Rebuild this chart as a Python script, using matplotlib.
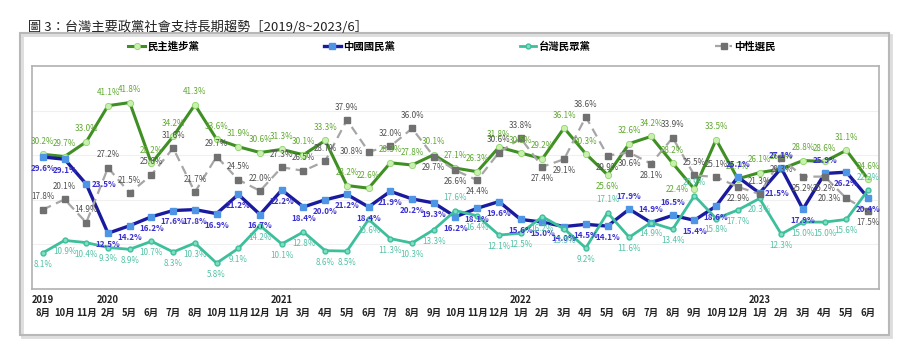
import matplotlib
matplotlib.use("Agg")
import matplotlib.pyplot as plt
from matplotlib.patches import Rectangle
from matplotlib.lines import Line2D
import matplotlib.transforms as mtransforms

plt.rcParams['font.family'] = ['Noto Sans CJK TC', 'DejaVu Sans']

months = ["8月", "10月", "11月", "2月", "5月", "6月", "7月", "8月", "10月", "11月", "12月",
          "1月", "3月", "4月", "5月", "6月", "7月", "8月", "9月", "10月", "11月", "12月",
          "1月", "2月", "3月", "4月", "5月", "6月", "7月", "8月", "9月", "10月", "12月",
          "1月", "2月", "3月", "4月", "5月", "6月"]
years = {0: "2019", 3: "2020", 11: "2021", 22: "2022", 33: "2023"}

dpp = [30.2, 29.7, 33.0, 41.1, 41.8, 28.2, 34.2, 41.3, 33.6, 31.9, 30.6,
       31.3, 30.1, 33.3, 23.2, 22.6, 28.3, 27.8, 30.1, 27.1, 26.3, 31.8,
       30.5, 29.2, 36.1, 30.3, 25.6, 32.6, 34.2, 28.2, 22.4, 33.5, 24.7,
       26.1, 26.9, 28.8, 28.6, 31.1, 24.6]
kmt = [29.6, 29.1, 23.5, 12.5, 14.2, 16.2, 17.6, 17.8, 16.9, 21.2, 16.7,
       22.2, 18.4, 20.0, 21.2, 18.4, 21.9, 20.2, 19.3, 16.2, 18.1, 19.6,
       15.6, 15.0, 14.0, 14.5, 14.1, 17.9, 14.9, 16.5, 15.4, 18.6, 25.1,
       21.5, 27.1, 17.9, 25.9, 26.2, 20.4]
tpp = [8.1, 10.9, 10.4, 9.3, 8.9, 10.7, 8.3, 10.3, 5.8, 9.1, 14.2,
       10.1, 12.8, 8.6, 8.5, 15.6, 11.3, 10.3, 13.3, 17.6, 16.4, 12.1,
       12.5, 16.2, 13.5, 9.2, 17.1, 11.6, 14.9, 13.4, 20.9, 15.8, 17.7,
       20.3, 12.3, 15.0, 15.0, 15.6, 22.2]
neutral = [17.8, 20.1, 14.9, 27.2, 21.5, 25.6, 31.6, 21.7, 29.7, 24.5, 22.0,
           27.3, 26.5, 28.7, 37.9, 30.8, 32.0, 36.0, 29.7, 26.6, 24.4, 30.6,
           33.8, 27.4, 29.1, 38.6, 29.9, 30.6, 28.1, 33.9, 25.5, 25.1, 22.9,
           21.3, 29.3, 25.2, 25.2, 20.3, 17.5]

# label placement: a=above, b=below, l=left, r=right
dpp_pos = "aaaaaaaaaaaaaaaaaaaaaaaaaabaaalaaaaaaaa"
kmt_pos = "bbrbbbbbbbbbbbbbbbbbbbbbbbbaaabbarababb"
tpp_pos = "bbbbbbbbbbbbbbbbbbbabbbbbbabbbabbbbbbba"
neu_pos = "aaaaaaaaaaaaaaalaabbbaabbabbbaaababbblb"

fig = plt.figure(figsize=(9.04, 3.51), dpi=100)
ax = fig.add_axes([32 / 904, 1 - 289 / 351, 847 / 904, 223 / 351])

x = list(range(len(months)))

series = [
    ("民主進步黨", dpp, dpp_pos, dict(color="#3f8f24", lw=2.2, marker="o", ms=4.5,
                                  mfc="#c8f0ae", mec="#8fd46a", mew=0.6), "#5ea82f"),
    ("中國國民黨", kmt, kmt_pos, dict(color="#1a1a9e", lw=2.4, marker="s", ms=4.5,
                                  mfc="#4f95e6", mec="#4f95e6"), "#3a2fd0"),
    ("台灣民眾黨", tpp, tpp_pos, dict(color="#3dbf9c", lw=2.0, marker="o", ms=3.5,
                                  mfc="#7fe0c0", mec="#3dbf9c"), "#52c2a5"),
    ("中性選民", neutral, neu_pos, dict(color="#a6a6a6", lw=1.6, ls=(0, (4, 2.5)), marker="s",
                                   ms=4.2, mfc="#707070", mec="#707070"), "#505050"),
]

offsets = {"a": (0, 6, "center", "bottom"), "b": (0, -5, "center", "top"),
           "l": (-4, 0, "right", "center"), "r": (4, 0, "left", "center")}

handles = []
for name, vals, pos, style, tcolor in series:
    ax.plot(x, vals, zorder=3, **style)
    bold = "bold" if name == "中國國民黨" else "normal"
    for xi, v, p in zip(x, vals, pos):
        dx, dy, ha, va = offsets[p]
        ax.annotate(f"{v:.1f}%", (xi, v), xytext=(dx, dy), textcoords="offset points",
                    ha=ha, va=va, fontsize=5.8, color=tcolor, fontweight=bold, zorder=5)
    handles.append(Line2D([], [], **style))

ax.set_xlim(-0.5, len(months) - 0.5)
ax.set_ylim(0, 50)
ax.set_xticks([])
ax.set_yticks([])
for y in (10, 20, 30, 40):
    ax.axhline(y, color="#f0f0f0", lw=0.8, zorder=0)
for s in ax.spines.values():
    s.set_color("#b0b0b0")
    s.set_linewidth(1.2)

trans = mtransforms.blended_transform_factory(ax.transData, fig.transFigure)
for xi, m in zip(x, months):
    ax.text(xi, 1 - 313 / 351, m, transform=trans, ha="center", va="center",
            fontsize=6.8, fontweight="bold", color="#222222")
for xi, yr in years.items():
    ax.text(xi, 1 - 300 / 351, yr, transform=trans, ha="center", va="center",
            fontsize=6.8, fontweight="bold", color="#222222")

fig.legend(handles, [s[0] for s in series], loc="center", bbox_to_anchor=(0.5, 1 - 46 / 351),
           ncol=4, frameon=False, handlelength=1.6, columnspacing=12,
           handletextpad=0.2, prop={"weight": "bold", "size": 7.5})

# outer frame with a light shadow
fig.patches.append(Rectangle((22 / 904, 1 - 337 / 351), 869 / 904, 302 / 351,
                             transform=fig.transFigure, fill=False, ec="#dddddd", lw=2))
fig.patches.append(Rectangle((20 / 904, 1 - 335 / 351), 869 / 904, 302 / 351,
                             transform=fig.transFigure, fill=False, ec="#b8b8b8", lw=1.5))

fig.text(28 / 904, 1 - 27 / 351, "圖 3：台灣主要政黨社會支持長期趨勢［2019/8~2023/6］",
         ha="left", va="center", fontsize=9.5, color="#222222")

fig.savefig("out.png", dpi=100)
